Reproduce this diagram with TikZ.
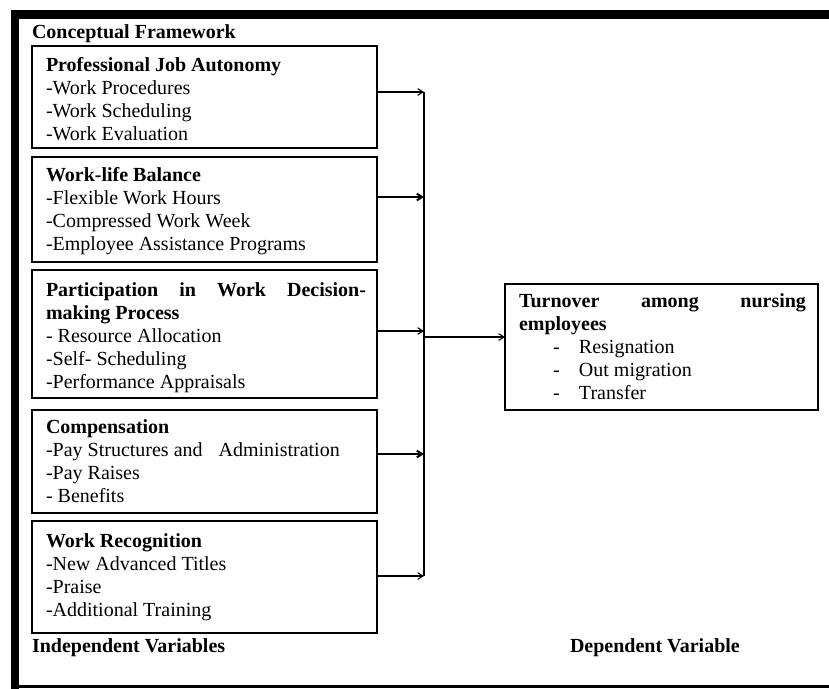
\documentclass[tikz,border=0pt]{standalone}
\usepackage{fontspec}
\setmainfont{Liberation Serif}
\usetikzlibrary{arrows.meta}
\begin{document}
\begin{tikzpicture}[x=0.75pt,y=-0.75pt,
  box/.style={draw,line width=1.1pt,inner sep=0pt,outer sep=0pt,anchor=north west},
  txt/.style={anchor=base west,inner sep=0pt,outer sep=0pt,font=\fontsize{15}{17.25}\selectfont},
  arr/.style={-{Straight Barb[length=4pt,width=5pt]},line width=0.8pt},
  arrb/.style={arr,line width=1.5pt}]
\useasboundingbox (0,0) rectangle (829,689);
% outer frame
\fill (11,10) rectangle (829,19);
\fill (11,10) rectangle (19,689);
\fill (11,685) rectangle (829,688);
% boxes
\node[box,minimum width={(377-32)*0.75pt},minimum height={(148-46)*0.75pt}] (b1) at (32,46) {};
\node[box,minimum width={(377-32)*0.75pt},minimum height={(262-157)*0.75pt}] (b2) at (32,157) {};
\node[box,minimum width={(377-32)*0.75pt},minimum height={(398-270)*0.75pt}] (b3) at (32,270) {};
\node[box,minimum width={(377-32)*0.75pt},minimum height={(513-410)*0.75pt}] (b4) at (32,410) {};
\node[box,minimum width={(377-32)*0.75pt},minimum height={(633-521)*0.75pt}] (b5) at (32,521) {};
\node[box,line width=1.4pt,minimum width={(818-505)*0.75pt},minimum height={(410-284)*0.75pt}] (tb) at (505,284) {};
% texts
\node[txt] (t0) at (32,38) {\bfseries Conceptual Framework};
\node[txt] (t1) at (46,71) {\begin{tabular}[t]{@{}l@{}}\bfseries Professional Job Autonomy\\ -Work Procedures\\ -Work Scheduling\\ -Work Evaluation\end{tabular}};
\node[txt] (t2) at (46,181) {\begin{tabular}[t]{@{}l@{}}\bfseries Work-life Balance\\ -Flexible Work Hours\\ -Compressed Work Week\\ -Employee Assistance Programs\end{tabular}};
\node[txt] (t3) at (46,296) {\begin{tabular}[t]{@{}l@{}}\makebox[240pt][s]{\bfseries Participation in Work Decision-}\\ \bfseries making Process\\ - Resource Allocation\\ -Self- Scheduling\\ -Performance Appraisals\end{tabular}};
\node[txt] (t4) at (46,433) {\begin{tabular}[t]{@{}l@{}}\bfseries Compensation\\ -Pay Structures and\hspace{12pt}Administration\\ -Pay Raises\\ - Benefits\end{tabular}};
\node[txt] (t5) at (46,547) {\begin{tabular}[t]{@{}l@{}}\bfseries Work Recognition\\ -New Advanced Titles\\ -Praise\\ -Additional Training\end{tabular}};
\node[txt] (t6) at (519,307) {\begin{tabular}[t]{@{}l@{}}\makebox[215.25pt][s]{\bfseries Turnover among nursing}\\ \bfseries employees\\ \makebox[45pt][l]{\hspace*{25.5pt}-}Resignation\\ \makebox[45pt][l]{\hspace*{25.5pt}-}Out migration\\ \makebox[45pt][l]{\hspace*{25.5pt}-}Transfer\end{tabular}};
\node[txt] (t7) at (32,652) {\bfseries Independent Variables};
\node[txt] (t8) at (570,652) {\bfseries Dependent Variable};
% connectors
\coordinate (j1) at (424,92);
\coordinate (j2) at (424,197);
\coordinate (j3) at (424,331);
\coordinate (j4) at (424,454);
\coordinate (j5) at (424,576);
\coordinate (jm) at (424,337);
\draw[line width=0.8pt] (j1) -- (j5);
\draw[arr] (b1.east |- j1) -- (j1);
\draw[arrb] (b2.east |- j2) -- (j2);
\draw[arr] (b3.east |- j3) -- (j3);
\draw[arrb] (b4.east |- j4) -- (j4);
\draw[arr] (b5.east |- j5) -- (j5);
\draw[arr] (jm) -- (tb.west |- jm);
\end{tikzpicture}
\end{document}
